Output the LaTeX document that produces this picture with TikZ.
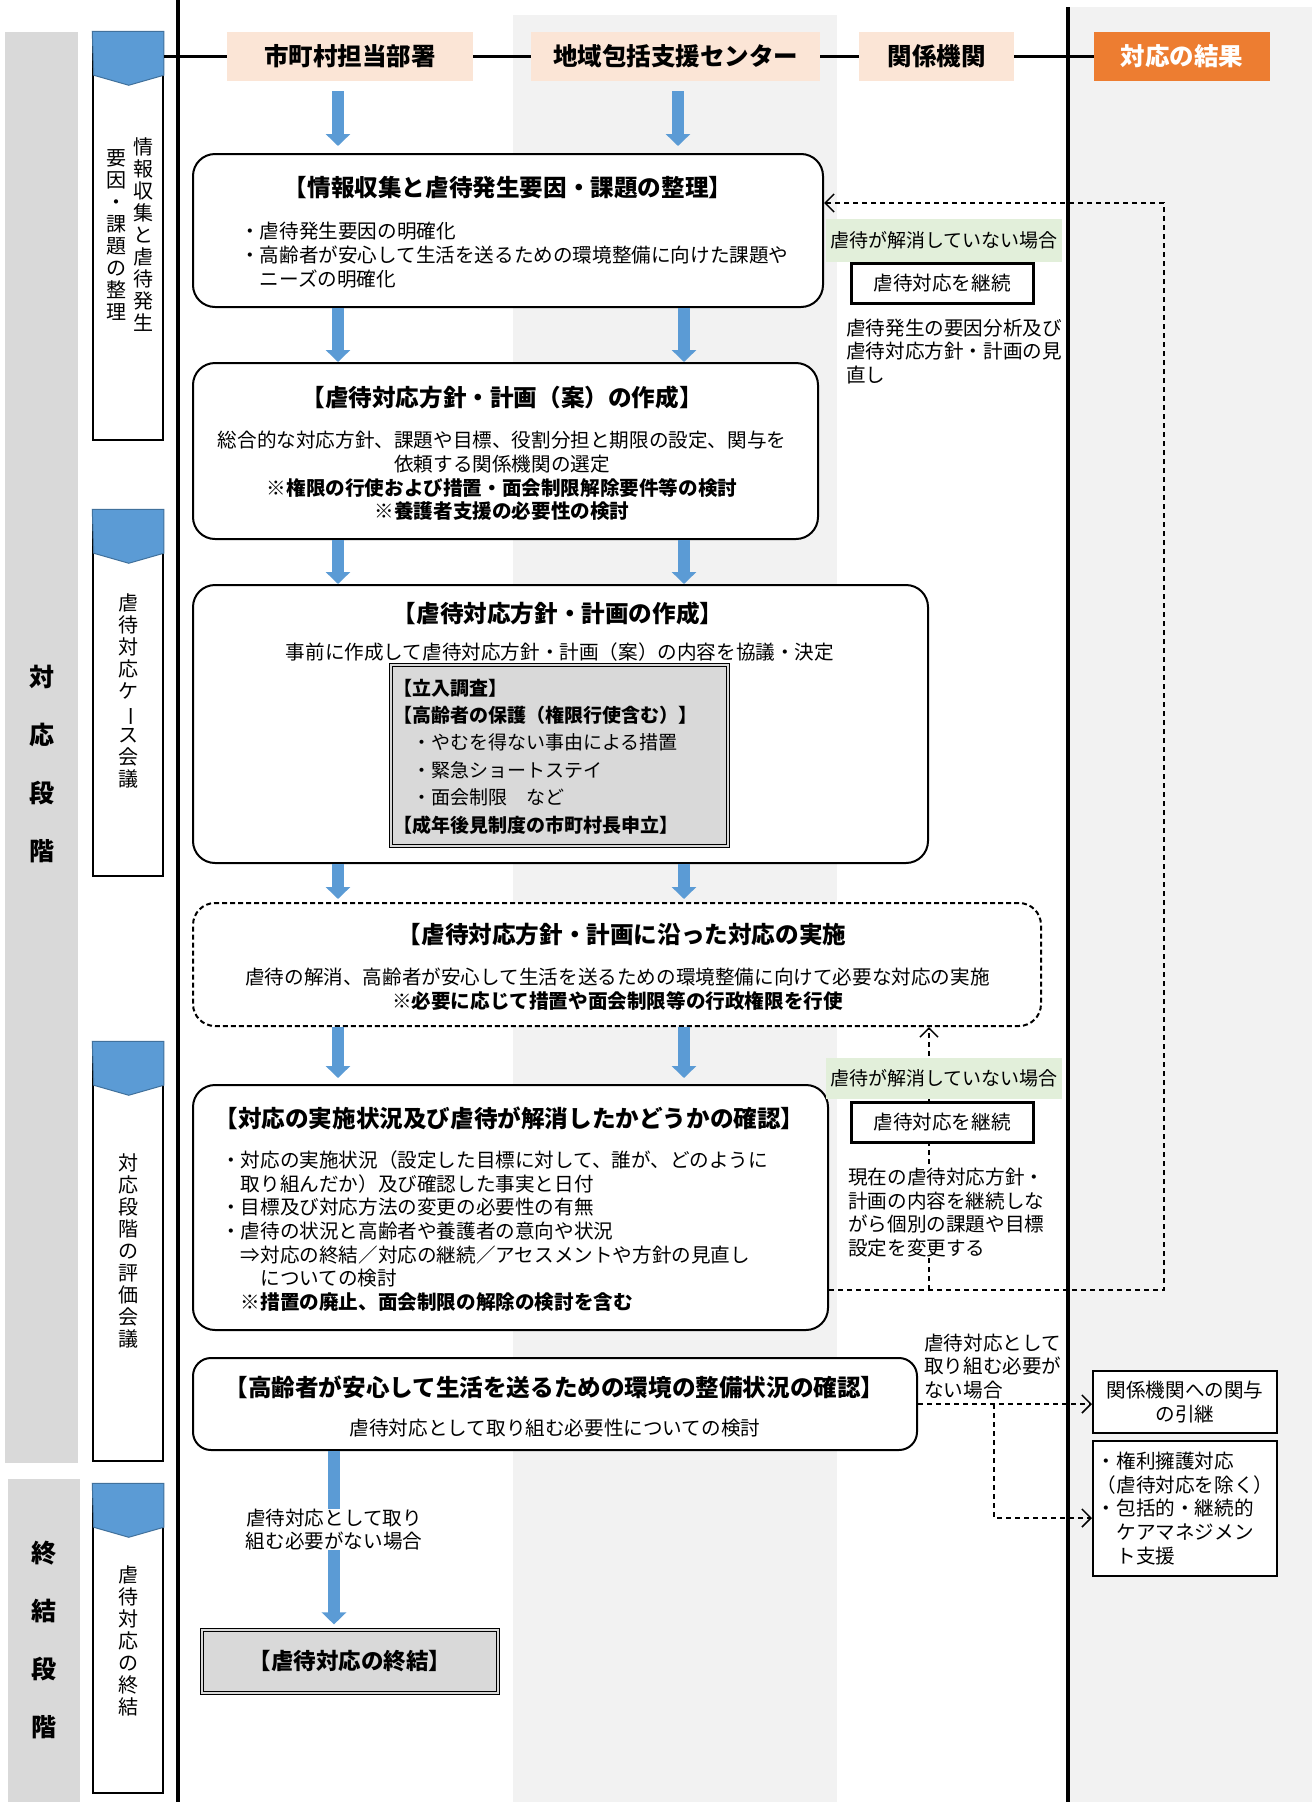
\documentclass[tikz,border=0pt]{standalone}
\usepackage{fontspec}
\setmainfont{Noto Sans CJK JP}
\usepackage{tikz}
\usetikzlibrary{math}
\usetikzlibrary{arrows.meta}

\definecolor{peach}{HTML}{FBE5D6}
\definecolor{resorange}{HTML}{ED7D31}
\definecolor{lanegray}{HTML}{F2F2F2}
\definecolor{bandgray}{HTML}{D9D9D9}
\definecolor{flowblue}{HTML}{5B9BD5}
\definecolor{flowedge}{HTML}{41719C}
\definecolor{notegreen}{HTML}{E2EFDA}

\begin{document}
\begin{tikzpicture}[x=1pt, y=-1pt,
  hdbox/.style={fill=peach, minimum height=49pt, inner sep=0pt, font=\fontsize{24.5}{28}\selectfont\bfseries},
  laneline/.style={line width=3.5pt},
  phasebox/.style={draw, line width=1.5pt, minimum width=70pt, inner sep=0pt, fill=white},
  phaseblue/.style={fill=flowblue, draw=flowedge, line width=1pt},
  vtext/.style={align=center, inner sep=0pt, font=\fontsize{20}{22}\selectfont},
  bandtext/.style={align=center, inner sep=0pt, font=\fontsize{25}{58}\selectfont\bfseries},
  mainbox/.style={draw, line width=2pt, rounded corners=22pt, fill=white, inner sep=0pt},
  ttl/.style={inner sep=0pt, font=\fontsize{23.6}{28}\selectfont\bfseries},
  txt/.style={inner sep=0pt, font=\fontsize{19.6}{23.7}\selectfont},
  dblbox/.style={draw, fill=bandgray, double=bandgray, double distance=2.5pt, line width=1.2pt, inner sep=0pt},
  flow/.style={draw=flowblue, line width=12pt, -{Triangle[length=12pt, width=24pt]}},
  fbline/.style={line width=1.5pt, dash pattern=on 5pt off 4pt, -{Straight Barb[length=9pt, width=18pt]}},
  notelbl/.style={fill=notegreen, minimum width=236pt, inner sep=0pt, font=\fontsize{19}{23}\selectfont},
  keepbox/.style={draw, line width=3pt, fill=white, minimum width=182pt, minimum height=40pt, inner sep=0pt, font=\fontsize{19.6}{23.7}\selectfont},
  resbox/.style={draw, line width=2pt, fill=white, minimum width=184pt, inner sep=0pt, font=\fontsize{19.6}{23.7}\selectfont}
]
\useasboundingbox (0,0) rectangle (1312,1802);

// Lanes
\fill[lanegray] (513,15) rectangle (837,1802);
\fill[lanegray] (1070,7) rectangle (1312,1802);
\fill[bandgray] (5,32) rectangle (78,1463);
\fill[bandgray] (8,1479) rectangle (80,1802);
\draw[laneline] (178,0) -- (178,1802);
\draw[laneline] (1068,7) -- (1068,1802);

\node[bandtext] (bandA) at (42,764.5) {対\\応\\段\\階};
\node[bandtext] (bandB) at (44,1640) {終\\結\\段\\階};

// Phase boxes
\tikzmath{ \y = 32; \h = 408; }
\node[phasebox, minimum height=\h pt] (ph1) at (128, \y + \h/2) {};
\filldraw[phaseblue] (ph1.north west) -- (ph1.north east) -- ++(0,44) -- ++(-35,10) -- ++(-35,-10) -- cycle;
\node[vtext] (ph1a) at (143,235) {情\\報\\収\\集\\と\\虐\\待\\発\\生};
\node[vtext] (ph1b) at (116,235) {要\\因\\・\\課\\題\\の\\整\\理};

\tikzmath{ \y = 510; \h = 366; }
\node[phasebox, minimum height=\h pt] (ph2) at (128, \y + \h/2) {};
\filldraw[phaseblue] (ph2.north west) -- (ph2.north east) -- ++(0,44) -- ++(-35,10) -- ++(-35,-10) -- cycle;
\node[vtext] (ph2a) at (128,691) {虐\\待\\対\\応\\ケ\\\rotatebox[origin=c]{-90}{ー}\\ス\\会\\議};

\tikzmath{ \y = 1042; \h = 419; }
\node[phasebox, minimum height=\h pt] (ph3) at (128, \y + \h/2) {};
\filldraw[phaseblue] (ph3.north west) -- (ph3.north east) -- ++(0,44) -- ++(-35,10) -- ++(-35,-10) -- cycle;
\node[vtext] (ph3a) at (128,1251) {対\\応\\段\\階\\の\\評\\価\\会\\議};

\tikzmath{ \y = 1484; \h = 309; }
\node[phasebox, minimum height=\h pt] (ph4) at (128, \y + \h/2) {};
\filldraw[phaseblue] (ph4.north west) -- (ph4.north east) -- ++(0,44) -- ++(-35,10) -- ++(-35,-10) -- cycle;
\node[vtext] (ph4a) at (128,1641) {虐\\待\\対\\応\\の\\終\\結};

// Header
\node[hdbox, minimum width=246pt] (hdA) at (350,56.5) {市町村担当部署};
\node[hdbox, minimum width=289pt] (hdB) at (675.5,56.5) {地域包括支援センター};
\node[hdbox, minimum width=155pt] (hdC) at (936.5,56.5) {関係機関};
\node[hdbox, minimum width=176pt, fill=resorange, text=white] (hdD) at (1182,56.5) {対応の結果};
\draw[laneline] (ph1.east |- hdA.west) -- (hdA.west);
\draw[laneline] (hdA.east) -- (hdB.west);
\draw[laneline] (hdB.east) -- (hdC.west);
\draw[laneline] (hdC.east) -- (hdD.west);

// Flow boxes
\node[mainbox, minimum width=630pt, minimum height=153pt] (box1) at (508,230.5) {};
\node[ttl] (ttl1) at (508,188) {【情報収集と虐待発生要因・課題の整理】};
\node[txt, anchor=west, align=left] (txt1) at (240,255) {・虐待発生要因の明確化\\・高齢者が安心して生活を送るための環境整備に向けた課題や\\　ニーズの明確化};

\node[mainbox, minimum width=625pt, minimum height=176pt] (box2) at (505.5,451) {};
\node[ttl] (ttl2) at (502,398) {【虐待対応方針・計画（案）の作成】};
\node[txt, align=center] (txt2) at (502,476) {総合的な対応方針、課題や目標、役割分担と期限の設定、関与を\\依頼する関係機関の選定\\{\bfseries ※権限の行使および措置・面会制限解除要件等の検討}\\{\bfseries ※養護者支援の必要性の検討}};

\node[mainbox, minimum width=735pt, minimum height=278pt] (box3) at (560.5,724) {};
\node[ttl] (ttl3) at (558,613) {【虐待対応方針・計画の作成】};
\node[txt] (txt3) at (560,652) {事前に作成して虐待対応方針・計画（案）の内容を協議・決定};
\node[dblbox, minimum width=337pt, minimum height=181pt] (legal) at (559.5,755.5) {};
\node[inner sep=0pt, anchor=west, align=left, font=\fontsize{19}{27.4}\selectfont] (legaltxt) at (393,756.5) {{\bfseries 【立入調査】}\\{\bfseries 【高齢者の保護（権限行使含む）】}\\　・やむを得ない事由による措置\\　・緊急ショートステイ\\　・面会制限　など\\{\bfseries 【成年後見制度の市町村長申立】}};

\node[mainbox, dash pattern=on 5pt off 3pt, minimum width=848pt, minimum height=123pt] (box4) at (617,964.5) {};
\node[ttl] (ttl4) at (622,935) {【虐待対応方針・計画に沿った対応の実施};
\node[txt, align=center] (txt4) at (617.5,989) {虐待の解消、高齢者が安心して生活を送るための環境整備に向けて必要な対応の実施\\{\bfseries ※必要に応じて措置や面会制限等の行政権限を行使}};

\node[mainbox, minimum width=635pt, minimum height=245pt] (box5) at (510.5,1207.5) {};
\node[ttl] (ttl5) at (509.5,1118) {【対応の実施状況及び虐待が解消したかどうかの確認】};
\node[txt, anchor=west, align=left] (txt5) at (221,1231) {・対応の実施状況（設定した目標に対して、誰が、どのように\\　取り組んだか）及び確認した事実と日付\\・目標及び対応方法の変更の必要性の有無\\・虐待の状況と高齢者や養護者の意向や状況\\　⇒対応の終結／対応の継続／アセスメントや方針の見直し\\　　についての検討\\　{\bfseries ※措置の廃止、面会制限の解除の検討を含む}};

\node[mainbox, rounded corners=18pt, minimum width=724pt, minimum height=92pt] (box6) at (555,1404) {};
\node[ttl] (ttl6) at (554.5,1387) {【高齢者が安心して生活を送るための環境の整備状況の確認】};
\node[txt] (txt6) at (555,1428) {虐待対応として取り組む必要性についての検討};

\node[dblbox, minimum width=296pt, minimum height=63pt, font=\fontsize{22.5}{28}\selectfont\bfseries] (box7) at (350,1661.5) {【虐待対応の終結】};

// Blue arrows
\coordinate (colA) at (338,0);
\coordinate (colB) at (684,0);
\coordinate (colBtop) at (678,0);
\coordinate (colC) at (334,0);
\draw[flow, shorten <=10pt, shorten >=7pt] (hdA.south -| colA) -- (box1.north -| colA);
\draw[flow, shorten <=10pt, shorten >=7pt] (hdB.south -| colBtop) -- (box1.north -| colBtop);
\draw[flow] (box1.south -| colA) -- (box2.north -| colA);
\draw[flow] (box1.south -| colB) -- (box2.north -| colB);
\draw[flow] (box2.south -| colA) -- (box3.north -| colA);
\draw[flow] (box2.south -| colB) -- (box3.north -| colB);
\draw[flow, shorten >=3pt] (box3.south -| colA) -- (box4.north -| colA);
\draw[flow, shorten >=3pt] (box3.south -| colB) -- (box4.north -| colB);
\draw[flow, shorten >=6pt] (box4.south -| colA) -- (box5.north -| colA);
\draw[flow, shorten >=6pt] (box4.south -| colB) -- (box5.north -| colB);
\draw[flow, shorten >=5pt] (box6.south -| colC) -- node[txt, fill=white, align=center, pos=0.44] (lblEnd) {虐待対応として取り\\組む必要がない場合} (box7.north -| colC);

// Feedback
\coordinate (fbR) at (1164,1290);
\coordinate (fbT) at (1164,203);
\coordinate (fbM) at (929,1290);
\draw[fbline] (box5.east |- fbR) -- (fbR) -- (fbT) -- (box1.east |- fbT);
\draw[fbline] (fbM) -- (fbM |- box4.south);

\node[notelbl, minimum height=43pt] (ngA) at (944,240.5) {虐待が解消していない場合};
\node[keepbox] (kpA) at (942,283) {虐待対応を継続};
\node[txt, anchor=west, align=left, fill=white] (memoA) at (846,351.5) {虐待発生の要因分析及び\\虐待対応方針・計画の見\\直し};

\node[notelbl, minimum height=41pt] (ngB) at (944,1078.5) {虐待が解消していない場合};
\node[keepbox] (kpB) at (942,1122.5) {虐待対応を継続};
\node[txt, anchor=west, align=left, fill=white] (memoB) at (848,1212.5) {現在の虐待対応方針・\\計画の内容を継続しな\\がら個別の課題や目標\\設定を変更する};

// Results
\node[txt, anchor=west, align=left] (noneed) at (924,1366.5) {虐待対応として\\取り組む必要が\\ない場合};
\node[resbox, minimum height=62pt, align=center] (rb1) at (1185,1402) {関係機関への関与\\の引継};
\node[resbox, minimum height=135pt, align=left] (rb2) at (1185,1508.5) {・権利擁護対応\\（虐待対応を除く）\\・包括的・継続的\\　ケアマネジメン\\　ト支援};
\coordinate (brB) at (994,1518);
\draw[fbline] (box6.east) -- (box6.east -| rb1.west);
\draw[fbline] (box6.east -| brB) -- (brB) -- (brB -| rb2.west);

\end{tikzpicture}
\end{document}
